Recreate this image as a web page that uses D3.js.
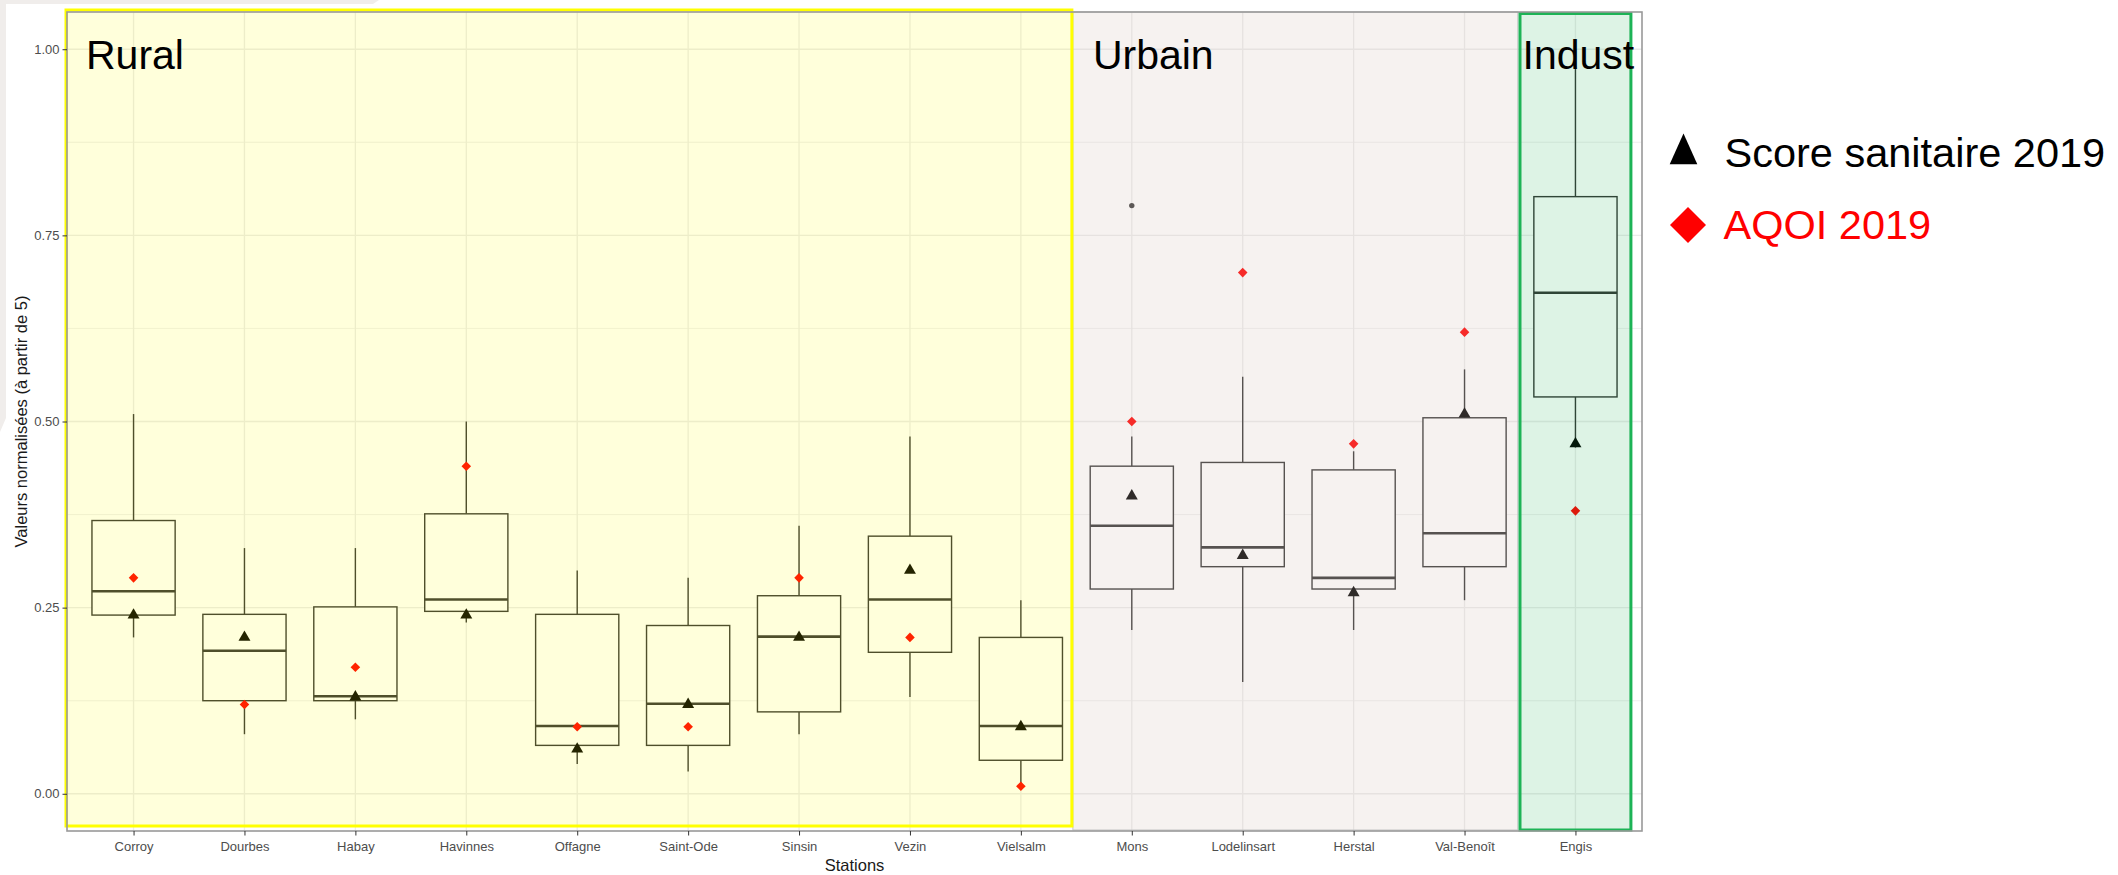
<!DOCTYPE html>
<html><head><meta charset="utf-8">
<script src="https://cdn.jsdelivr.net/npm/d3@7"></script>
<style>
html,body{margin:0;padding:0;background:#fff;}
svg{display:block;font-family:"Liberation Sans",Arial,Helvetica,sans-serif;}
</style></head><body>
<svg id="chart" width="2118" height="875"></svg>
<script>
// Stations, grouped by environment type
const stations = ["Corroy","Dourbes","Habay","Havinnes","Offagne","Saint-Ode","Sinsin","Vezin","Vielsalm","Mons","Lodelinsart","Herstal","Val-Benoît","Engis"];

// Box-plot statistics of the normalised values per station
const whiskerLow  = [0.21, 0.08, 0.10, 0.23, 0.04, 0.03, 0.08, 0.13, 0.01, 0.22, 0.15, 0.22, 0.26, 0.465];
const q1          = [0.24, 0.125, 0.125, 0.245, 0.065, 0.065, 0.11, 0.19, 0.045, 0.275, 0.305, 0.275, 0.305, 0.533];
const median      = [0.272, 0.192, 0.131, 0.261, 0.091, 0.121, 0.211, 0.261, 0.091, 0.36, 0.331, 0.29, 0.35, 0.673];
const q3          = [0.367, 0.241, 0.251, 0.376, 0.241, 0.226, 0.266, 0.346, 0.21, 0.44, 0.445, 0.435, 0.505, 0.802];
const whiskerHigh = [0.51, 0.33, 0.33, 0.50, 0.30, 0.29, 0.36, 0.48, 0.26, 0.48, 0.56, 0.46, 0.57, 1.00];

// Outliers beyond the whiskers
const outlierStations = ["Mons"];
const outlierValues   = [0.79];

// Overlaid indicators
const scoreSanitaire = [0.24, 0.21, 0.13, 0.24, 0.06, 0.12, 0.21, 0.30, 0.09, 0.40, 0.32, 0.27, 0.51, 0.47];
const aqoi           = [0.29, 0.12, 0.17, 0.44, 0.09, 0.09, 0.29, 0.21, 0.01, 0.50, 0.70, 0.47, 0.62, 0.38];

// Axis ticks
const yTicks      = [0, 0.25, 0.5, 0.75, 1.0];
const yTickLabels = ["0.00", "0.25", "0.50", "0.75", "1.00"];
const yMinor      = [0.125, 0.375, 0.625, 0.875];

// Station groups
const groupNames = ["Rural", "Urbain", "Indust"];
const legendLabels = ["Score sanitaire 2019", "AQOI 2019"];

const svg = d3.select("#chart");
const panel = {left: 67, right: 1642, top: 12, bottom: 831};

const x = d3.scalePoint().domain(stations).range([panel.left, panel.right]).padding(0.6);
const y = d3.scaleLinear().domain([-0.05, 1.05]).range([panel.bottom, panel.top]);
const step = x.step();
const boxW = step * 0.75;

// light frame in the top-left corner
svg.append("path")
  .attr("d", "M0,0 H379 L373,4 H6 V418 L0,432 Z")
  .attr("fill", "#F0EDEB");

// panel background
svg.append("rect")
  .attr("x", panel.left).attr("y", panel.top)
  .attr("width", panel.right - panel.left).attr("height", panel.bottom - panel.top)
  .attr("fill", "#fff");

// grid
const grid = svg.append("g");
grid.selectAll("line.minor").data(yMinor).join("line")
  .attr("x1", panel.left).attr("x2", panel.right)
  .attr("y1", d => y(d)).attr("y2", d => y(d))
  .attr("stroke", "#EBEBEB").attr("stroke-width", 0.8);
grid.selectAll("line.major").data(yTicks).join("line")
  .attr("x1", panel.left).attr("x2", panel.right)
  .attr("y1", d => y(d)).attr("y2", d => y(d))
  .attr("stroke", "#EBEBEB").attr("stroke-width", 1.3);
grid.selectAll("line.vert").data(stations).join("line")
  .attr("x1", d => x(d)).attr("x2", d => x(d))
  .attr("y1", panel.top).attr("y2", panel.bottom)
  .attr("stroke", "#EBEBEB").attr("stroke-width", 1.3);

// box plots
const boxes = stations.map((s, i) => ({s, lo: whiskerLow[i], q1: q1[i], med: median[i], q3: q3[i], hi: whiskerHigh[i]}));
const bx = svg.append("g").attr("stroke", "#333333");
bx.selectAll("line.wu").data(boxes).join("line")
  .attr("x1", d => x(d.s)).attr("x2", d => x(d.s))
  .attr("y1", d => y(d.q3)).attr("y2", d => y(d.hi))
  .attr("stroke-width", 1.4);
bx.selectAll("line.wl").data(boxes).join("line")
  .attr("x1", d => x(d.s)).attr("x2", d => x(d.s))
  .attr("y1", d => y(d.q1)).attr("y2", d => y(d.lo))
  .attr("stroke-width", 1.4);
bx.selectAll("rect").data(boxes).join("rect")
  .attr("x", d => x(d.s) - boxW / 2).attr("width", boxW)
  .attr("y", d => y(d.q3)).attr("height", d => y(d.q1) - y(d.q3))
  .attr("fill", "#fff").attr("stroke-width", 1.4);
bx.selectAll("line.med").data(boxes).join("line")
  .attr("x1", d => x(d.s) - boxW / 2).attr("x2", d => x(d.s) + boxW / 2)
  .attr("y1", d => y(d.med)).attr("y2", d => y(d.med))
  .attr("stroke-width", 2.6);
svg.append("g").selectAll("circle").data(outlierStations).join("circle")
  .attr("cx", d => x(d)).attr("cy", (d, i) => y(outlierValues[i]))
  .attr("r", 2.7).attr("fill", "#3a3a3a");

// indicators
const tri = d3.symbol().type(d3.symbolTriangle).size(62);
svg.append("g").selectAll("path").data(stations).join("path")
  .attr("d", tri)
  .attr("transform", (d, i) => `translate(${x(d)},${y(scoreSanitaire[i])})`)
  .attr("fill", "#000");
const dia = d3.symbol().type(d3.symbolSquare).size(46);
svg.append("g").selectAll("path").data(stations).join("path")
  .attr("d", dia)
  .attr("transform", (d, i) => `translate(${x(d)},${y(aqoi[i])}) rotate(45)`)
  .attr("fill", "#FF0000");

// group shading
const ruralRight = x("Vielsalm") + step * 0.46;
const urbanRight = x("Val-Benoît") + step * 0.48;
const indLeft = x("Engis") - step * 0.5;
const indRight = x("Engis") + step * 0.5;

svg.append("rect")
  .attr("x", ruralRight + 1).attr("y", panel.top)
  .attr("width", urbanRight - ruralRight - 1).attr("height", panel.bottom - panel.top - 1)
  .attr("fill", "#D8C6BA").attr("fill-opacity", 0.22)
  .attr("stroke", "#C4C4C4").attr("stroke-width", 1);
svg.append("rect")
  .attr("x", indLeft).attr("y", panel.top + 1.5)
  .attr("width", indRight - indLeft).attr("height", panel.bottom - panel.top - 2.5)
  .attr("fill", "#1CAF52").attr("fill-opacity", 0.15)
  .attr("stroke", "#1DB356").attr("stroke-width", 3);
svg.append("rect")
  .attr("x", panel.left - 1).attr("y", panel.top - 2)
  .attr("width", ruralRight - panel.left + 1).attr("height", panel.bottom - panel.top - 3)
  .attr("fill", "#FFFF00").attr("fill-opacity", 0.14)
  .attr("stroke", "#FFFF00").attr("stroke-width", 3);

// panel border
svg.append("rect")
  .attr("x", panel.left).attr("y", panel.top)
  .attr("width", panel.right - panel.left).attr("height", panel.bottom - panel.top)
  .attr("fill", "none").attr("stroke", "#999999").attr("stroke-width", 1.6);

// group labels
const groupX = [panel.left + 19, ruralRight + 21, indLeft + 2.5];
svg.append("g").selectAll("text").data(groupNames).join("text")
  .attr("x", (d, i) => groupX[i]).attr("y", 69)
  .attr("font-size", 41).attr("fill", "#000")
  .text(d => d);

// axes
const yAxis = svg.append("g").attr("transform", `translate(${panel.left},0)`)
  .call(d3.axisLeft(y).tickValues(yTicks).tickFormat((d, i) => yTickLabels[i]).tickSize(4.5).tickPadding(3));
yAxis.select(".domain").remove();
yAxis.selectAll(".tick line").attr("stroke", "#333");
yAxis.selectAll(".tick text").attr("fill", "#4D4D4D").attr("font-size", 13)
  .attr("font-family", "Liberation Sans, Arial, sans-serif");

const xAxis = svg.append("g").attr("transform", `translate(0,${panel.bottom})`)
  .call(d3.axisBottom(x).tickSize(4.5).tickPadding(6));
xAxis.select(".domain").remove();
xAxis.selectAll(".tick line").attr("stroke", "#333");
xAxis.selectAll(".tick text").attr("fill", "#4D4D4D").attr("font-size", 13)
  .attr("font-family", "Liberation Sans, Arial, sans-serif");

// axis titles
svg.append("text")
  .attr("transform", `translate(27,${(panel.top + panel.bottom) / 2}) rotate(-90)`)
  .attr("text-anchor", "middle").attr("font-size", 16.5).attr("fill", "#1a1a1a")
  .text("Valeurs normalisées (à partir de 5)");
svg.append("text")
  .attr("x", (panel.left + panel.right) / 2).attr("y", 871)
  .attr("text-anchor", "middle").attr("font-size", 16.5).attr("fill", "#1a1a1a")
  .text("Stations");

// legend
const lg = svg.append("g");
lg.append("path")
  .attr("d", d3.symbol().type(d3.symbolTriangle).size(330))
  .attr("transform", "translate(1683.5,154) scale(1,1.28)")
  .attr("fill", "#000");
lg.append("text").attr("x", 1724.5).attr("y", 167).attr("font-size", 41.5).attr("fill", "#000").text(legendLabels[0]);
lg.append("path")
  .attr("d", d3.symbol().type(d3.symbolSquare).size(648))
  .attr("transform", "translate(1688,225) rotate(45)")
  .attr("fill", "#FF0000");
lg.append("text").attr("x", 1723.5).attr("y", 239).attr("font-size", 41.5).attr("fill", "#FF0000").text(legendLabels[1]);
</script>
</body></html>
